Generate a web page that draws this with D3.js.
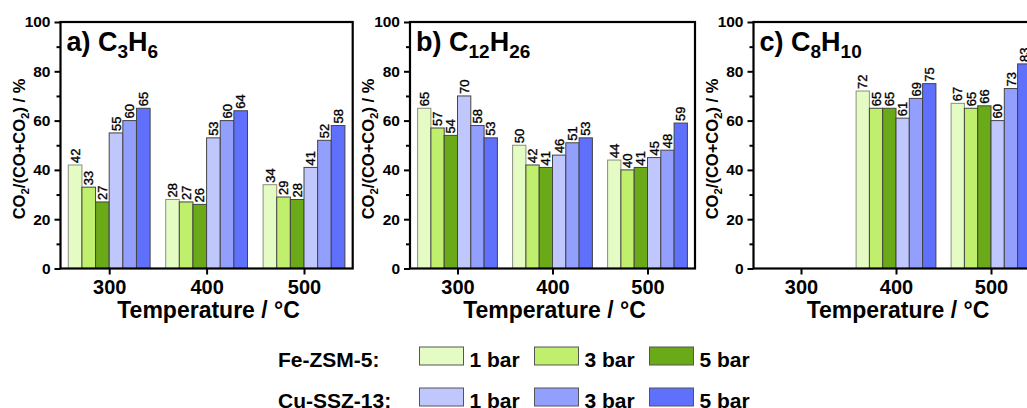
<!DOCTYPE html>
<html>
<head>
<meta charset="utf-8">
<script src="https://cdn.jsdelivr.net/npm/d3@7"></script>
<style>
  body { margin: 0; background: #fff; }
  svg { display: block; font-family: "Liberation Sans", Arial, sans-serif; }
  .tick text { font-weight: bold; }
</style>
</head>
<body>
<svg id="chart" width="1027" height="408"></svg>
<script>
// data
var temps = [300, 400, 500];
var catalysts = ["Fe-ZSM-5:", "Cu-SSZ-13:"];
var pressures = ["1 bar", "3 bar", "5 bar"];
var barColors = ["#e4fbc4", "#bfef6c", "#6aa917", "#c0c7fc", "#939ffc", "#5f70fd"];
var panelNames = ["a) C3H6", "b) C12H26", "c) C8H10"];

// rows = temperature, columns = Fe 1/3/5 bar, Cu 1/3/5 bar
var c3h6 = [[42, 33, 27, 55, 60, 65], [28, 27, 26, 53, 60, 64], [34, 29, 28, 41, 52, 58]];
var c12h26 = [[65, 57, 54, 70, 58, 53], [50, 42, 41, 46, 51, 53], [44, 40, 41, 45, 48, 59]];
var c8h10 = [null, [72, 65, 65, 61, 69, 75], [67, 65, 66, 60, 73, 83]];
var panelData = [c3h6, c12h26, c8h10];

var yTicks = [0, 20, 40, 60, 80, 100];

var svg = d3.select("#chart");

// panel frames (pixels)
var panels = [
    {left: 60.5, right: 352.7},
    {left: 410, right: 695},
    {left: 753.5, right: 1038.5}
];
var plotTop = 22, plotBottom = 268.5;

var y = d3.scaleLinear().domain([0, 100]).range([plotBottom, plotTop]);
// position of the six bars inside a group, in temperature units
var inner = d3.scaleBand().domain(d3.range(6)).range([-42, 42]);

panels.forEach(function (p, k) {
    var x = d3.scaleLinear().domain([250, 550]).range([p.left, p.right]);
    var g = svg.append("g").attr("class", "panel");

    // bars
    var rows = [];
    panelData[k].forEach(function (vals, ti) {
        if (!vals) return;
        vals.forEach(function (v, si) {
            rows.push({t: temps[ti], s: si, v: v});
        });
    });

    var bx = function (d) { return x(d.t + inner(d.s)); };
    var bw = x(250 + inner.bandwidth()) - x(250);

    g.selectAll("rect.bar")
        .data(rows)
        .enter().append("rect")
        .attr("class", "bar")
        .attr("x", bx)
        .attr("y", function (d) { return y(d.v); })
        .attr("width", bw)
        .attr("height", function (d) { return y(0) - y(d.v); })
        .attr("fill", function (d) { return barColors[d.s]; })
        .attr("stroke", function (d) { return d.s === 0 ? "#8a8f80" : "#444"; })
        .attr("stroke-width", 1);

    // value labels
    g.selectAll("text.val")
        .data(rows)
        .enter().append("text")
        .attr("class", "val")
        .attr("transform", function (d) {
            return "translate(" + (bx(d) + bw / 2 + 4.6) + "," + (y(d.v) - 2) + ") rotate(-90)";
        })
        .attr("font-size", 13)
        .attr("fill", "#000")
        .attr("stroke", "#000")
        .attr("stroke-width", 0.35)
        .text(function (d) { return d.v; });

    // frame
    g.append("rect")
        .attr("x", p.left)
        .attr("y", plotTop)
        .attr("width", p.right - p.left)
        .attr("height", plotBottom - plotTop)
        .attr("fill", "none")
        .attr("stroke", "#000")
        .attr("stroke-width", 2.2);

    // y axis, major + minor ticks
    var yAxis = g.append("g")
        .attr("transform", "translate(" + p.left + ",0)")
        .call(d3.axisLeft(y).tickValues(yTicks).tickSize(6).tickPadding(4));
    yAxis.select(".domain").remove();
    yAxis.selectAll("line").attr("stroke-width", 2);
    yAxis.selectAll("text").attr("font-size", 15.5).attr("font-family", null).attr("fill", "#000");

    var yMinor = g.append("g")
        .attr("transform", "translate(" + p.left + ",0)")
        .call(d3.axisLeft(y).tickValues(y.ticks(10).filter(function (t) { return t % 20; }))
            .tickSize(4).tickFormat(""));
    yMinor.select(".domain").remove();
    yMinor.selectAll("line").attr("stroke-width", 2);

    // x axis
    var xAxis = g.append("g")
        .attr("transform", "translate(0," + plotBottom + ")")
        .call(d3.axisBottom(x).tickValues(temps).tickSize(6).tickPadding(5));
    xAxis.select(".domain").remove();
    xAxis.selectAll("line").attr("stroke-width", 2);
    xAxis.selectAll("text").attr("font-size", 20).attr("font-family", null).attr("fill", "#000");

    // x title
    g.append("text")
        .attr("x", (p.left + p.right) / 2 + 2)
        .attr("y", 318)
        .attr("text-anchor", "middle")
        .attr("font-size", 23)
        .attr("font-weight", "bold")
        .text("Temperature / °C");

    // y title
    var yt = g.append("text")
        .attr("transform", "translate(" + (p.left - 36) + "," + 149 + ") rotate(-90)")
        .attr("text-anchor", "middle")
        .attr("font-size", 16.5)
        .attr("font-weight", "bold");
    yt.append("tspan").text("CO");
    yt.append("tspan").attr("font-size", 11.5).attr("dy", 4).text("2");
    yt.append("tspan").attr("dy", -4).text("/(CO+CO");
    yt.append("tspan").attr("font-size", 11.5).attr("dy", 4).text("2");
    yt.append("tspan").attr("dy", -4).text(") / %");

    // panel title with subscript digits
    var tt = g.append("text")
        .attr("x", p.left + 6)
        .attr("y", 51)
        .attr("font-size", 27)
        .attr("font-weight", "bold");
    tt.append("tspan").text(panelNames[k].slice(0, 3));
    var formula = panelNames[k].slice(3).match(/[A-Z]|\d+/g);
    var down = false;
    formula.forEach(function (s) {
        var isNum = /\d/.test(s);
        var ts = tt.append("tspan").text(s);
        if (isNum) ts.attr("font-size", 19);
        if (isNum && !down) { ts.attr("dy", 7); down = true; }
        else if (!isNum && down) { ts.attr("dy", -7); down = false; }
    });
});

// legend
var legend = svg.append("g").attr("class", "legend");
catalysts.forEach(function (c, r) {
    var ly = 347 + r * 41;
    legend.append("text")
        .attr("x", 278)
        .attr("y", ly + 19.5)
        .attr("font-size", 21)
        .attr("font-weight", "bold")
        .text(c);
    pressures.forEach(function (pr, j) {
        var lx = 419.5 + j * 115;
        legend.append("rect")
            .attr("x", lx)
            .attr("y", ly)
            .attr("width", 44)
            .attr("height", 18)
            .attr("fill", barColors[r * 3 + j])
            .attr("stroke", "#555")
            .attr("stroke-width", 1);
        legend.append("text")
            .attr("x", lx + 50)
            .attr("y", ly + 19.5)
            .attr("font-size", 21)
            .attr("font-weight", "bold")
            .text(pr);
    });
});
</script>
</body>
</html>
